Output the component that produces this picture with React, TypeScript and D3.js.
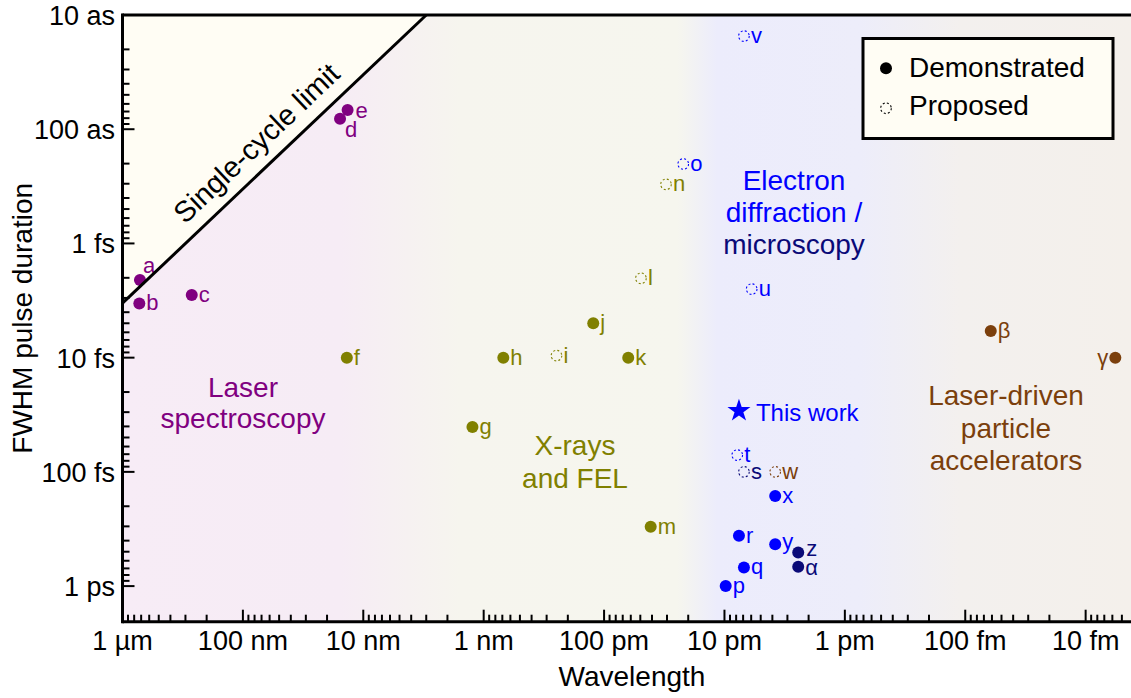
import React from 'react';
import * as d3 from 'd3';

// ---------- data ----------
const pointLabels = ['a','b','c','d','e','f','g','h','i','j','k','l','m','n','o','p','q','r','s','t','u','v','w','x','y','z','α','β','γ'];
// wavelength in nm
const wavelengthNm = [716, 725, 266, 15.6, 13.5, 13.7, 1.24, 0.687, 0.2485, 0.123, 0.063, 0.0494, 0.041, 0.0306, 0.022,
  0.00977, 0.00689, 0.00758, 0.00689, 0.00783, 0.00594, 0.00689, 0.00379, 0.00379, 0.00379, 0.00244, 0.00244, 6.14e-5, 5.67e-6];
// FWHM pulse duration in fs
const durationFs = [2.09, 3.35, 2.83, 0.081, 0.068, 10, 40.5, 10, 9.6, 5.0, 10, 2.02, 302, 0.304, 0.2017,
  1000, 686, 363, 100, 71.3, 2.51, 0.0153, 100, 163, 431, 507, 678, 5.85, 10];
const pointGroup = ['laser','laser','laser','laser','laser',
  'xray','xray','xray','xray','xray','xray','xray','xray','xray',
  'electron','electron','electron','electron','microscopy','electron','electron','electron','accel',
  'electron','electron','microscopy','microscopy','accel','accel'];
const proposedLabels = ['i','l','n','o','s','t','u','v','w'];

const thisWorkWavelengthNm = 0.00758;
const thisWorkDurationFs = 29.2;

const xTickValues = [1000, 100, 10, 1, 0.1, 0.01, 0.001, 1e-4, 1e-5];
const xTickLabels = ['1 µm', '100 nm', '10 nm', '1 nm', '100 pm', '10 pm', '1 pm', '100 fm', '10 fm'];
const yTickValues = [0.01, 0.1, 1, 10, 100, 1000];
const yTickLabels = ['10 as', '100 as', '1 fs', '10 fs', '100 fs', '1 ps'];

const legendLabels = ['Demonstrated', 'Proposed'];

const groupColor: Record<string, string> = {
  laser: '#800080',
  xray: '#808000',
  electron: '#0000ff',
  microscopy: '#0a0a78',
  accel: '#7b3f0c',
};

// label offset overrides (dx, dy, anchor)
const labelOffsets: Record<string, [number, number, string]> = {
  a: [3, -7, 'start'],
  d: [5, 18, 'start'],
  e: [8, 8, 'start'],
  z: [8, 4, 'start'],
  y: [7, 5, 'start'],
  'α': [7, 8, 'start'],
  'γ': [-7, 7, 'end'],
};

const FONT = '"Liberation Sans", Arial, Helvetica, sans-serif';

export default function App() {
  const left = 122.5, right = 1131, top = 15, bottom = 621.7;
  const x = d3.scaleLog().domain([1000, 4.2e-6]).range([left, right]);
  const y = d3.scaleLog().domain([0.01, 2050]).range([top, bottom]);

  // minor ticks
  const xMinor: number[] = [];
  for (let d = -6; d <= 3; d++) for (let m = 2; m <= 9; m++) {
    const v = m * Math.pow(10, d);
    if (v <= 1000 && v >= 4.2e-6) xMinor.push(v);
  }
  const yMinor: number[] = [];
  for (let d = -2; d <= 3; d++) for (let m = 2; m <= 9; m++) {
    const v = m * Math.pow(10, d);
    if (v >= 0.01 && v <= 1900) yMinor.push(v);
  }

  // single cycle limit: T = lambda / c
  const cycleFs = (nm: number) => nm * 1e-9 / 2.998e8 * 1e15;
  const lamTop = 0.01 / cycleFs(1);
  const p0 = [x(1000), y(cycleFs(1000))];
  const p1 = [x(lamTop), y(0.01)];
  const angle = Math.atan2(p1[1] - p0[1], p1[0] - p0[0]) * 180 / Math.PI;
  const midLam = 56.3;
  const mid = [x(midLam), y(cycleFs(midLam))];

  const star = d3.symbol().type(d3.symbolStar).size(165)();

  const points = pointLabels.map((l, i) => ({
    label: l,
    cx: x(wavelengthNm[i]),
    cy: y(durationFs[i]),
    color: groupColor[pointGroup[i]],
    proposed: proposedLabels.includes(l),
  }));

  return (
    <svg width={1131} height={698} style={{ position: 'absolute', left: 0, top: 0 }} fontFamily={FONT}>
      <defs>
        <linearGradient id="bg" gradientUnits="userSpaceOnUse" x1={left} x2={right} y1={0} y2={0}>
          <stop offset="0" stopColor="#f7ecf6" />
          <stop offset="0.216" stopColor="#f6ecf5" />
          <stop offset="0.335" stopColor="#f6f5ee" />
          <stop offset="0.55" stopColor="#f6f6ee" />
          <stop offset="0.59" stopColor="#ececfc" />
          <stop offset="0.731" stopColor="#ededfa" />
          <stop offset="0.83" stopColor="#f3f0ee" />
          <stop offset="1" stopColor="#f4f0eb" />
        </linearGradient>
      </defs>
      <rect x={left} y={top} width={right - left} height={bottom - top} fill="url(#bg)" />
      <polygon points={`${x(1000)},${y(0.01)} ${p1[0]},${p1[1]} ${p0[0]},${p0[1]}`} fill="#fffdf4" />

      {/* region labels */}
      <g fontSize={28} textAnchor="middle">
        <text x={243} y={397} fill={groupColor.laser}>Laser</text>
        <text x={243} y={428} fill={groupColor.laser}>spectroscopy</text>
        <text x={575} y={455} fill={groupColor.xray}>X-rays</text>
        <text x={575} y={488} fill={groupColor.xray}>and FEL</text>
        <text x={794} y={190} fill={groupColor.electron}>Electron</text>
        <text x={794} y={222} fill={groupColor.electron}>diffraction /</text>
        <text x={794} y={254} fill={groupColor.microscopy}>microscopy</text>
        <text x={1006} y={405} fill={groupColor.accel}>Laser-driven</text>
        <text x={1006} y={438} fill={groupColor.accel}>particle</text>
        <text x={1006} y={470} fill={groupColor.accel}>accelerators</text>
      </g>

      {/* points */}
      {points.map((p) => (
        p.proposed ? (
          <circle key={'c' + p.label} cx={p.cx} cy={p.cy} r={5.3} fill="none" stroke={p.color} strokeWidth={1.1} strokeDasharray="2 2.2" />
        ) : (
          <circle key={'c' + p.label} cx={p.cx} cy={p.cy} r={6} fill={p.color} />
        )
      ))}
      {points.map((p) => {
        const o = labelOffsets[p.label] || [7, 7, 'start'];
        return (
          <text key={'t' + p.label} x={p.cx + o[0]} y={p.cy + o[1]} textAnchor={o[2]} fontSize={22} fill={p.color}>{p.label}</text>
        );
      })}

      {/* this work */}
      <path d={star || ''} transform={`translate(${x(thisWorkWavelengthNm)},${y(thisWorkDurationFs)})`} fill="#0000ff" />
      <text x={x(thisWorkWavelengthNm) + 17} y={y(thisWorkDurationFs) + 10} fontSize={24} fill="#0000ff">This work</text>

      {/* single cycle line */}
      <line x1={p0[0]} y1={p0[1]} x2={p1[0]} y2={p1[1]} stroke="#000" strokeWidth={3} />
      <text transform={`translate(${mid[0]},${mid[1]}) rotate(${angle})`} y={-14} textAnchor="middle" fontSize={29} fill="#000">Single-cycle limit</text>

      {/* axes */}
      <line x1={left} x2={right} y1={top} y2={top} stroke="#000" strokeWidth={3} />
      <line x1={left} x2={right} y1={bottom} y2={bottom} stroke="#000" strokeWidth={3} />
      <line x1={left} x2={left} y1={top - 1.5} y2={bottom + 1.5} stroke="#000" strokeWidth={3} />
      {xTickValues.map((v) => (
        <line key={'xm' + v} x1={x(v)} x2={x(v)} y1={bottom} y2={bottom - 12} stroke="#000" strokeWidth={2} />
      ))}
      {xMinor.map((v) => (
        <line key={'xn' + v} x1={x(v)} x2={x(v)} y1={bottom} y2={bottom - 7} stroke="#000" strokeWidth={2} />
      ))}
      {yTickValues.map((v) => (
        <line key={'ym' + v} x1={left} x2={left + 12} y1={y(v)} y2={y(v)} stroke="#000" strokeWidth={2} />
      ))}
      {yMinor.map((v) => (
        <line key={'yn' + v} x1={left} x2={left + 7} y1={y(v)} y2={y(v)} stroke="#000" strokeWidth={2} />
      ))}
      <g fontSize={27} fill="#000">
        {xTickValues.map((v, i) => (
          <text key={'xl' + v} x={x(v)} y={650} textAnchor="middle">{xTickLabels[i]}</text>
        ))}
        {yTickValues.map((v, i) => (
          <text key={'yl' + v} x={115} y={y(v) + 10} textAnchor="end">{yTickLabels[i]}</text>
        ))}
      </g>
      <text x={632} y={686} textAnchor="middle" fontSize={28} fill="#000">Wavelength</text>
      <text transform={`translate(32,${(top + bottom) / 2}) rotate(-90)`} textAnchor="middle" fontSize={28} fill="#000">FWHM pulse duration</text>

      {/* legend */}
      <rect x={863} y={38.5} width={250} height={100} fill="#fffdf4" stroke="#000" strokeWidth={3} />
      <circle cx={886} cy={68.3} r={6} fill="#000" />
      <circle cx={886} cy={108.3} r={5.3} fill="none" stroke="#000" strokeWidth={1.1} strokeDasharray="2 2.2" />
      <text x={909} y={77} fontSize={28} fill="#000">{legendLabels[0]}</text>
      <text x={909} y={115} fontSize={28} fill="#000">{legendLabels[1]}</text>
    </svg>
  );
}
